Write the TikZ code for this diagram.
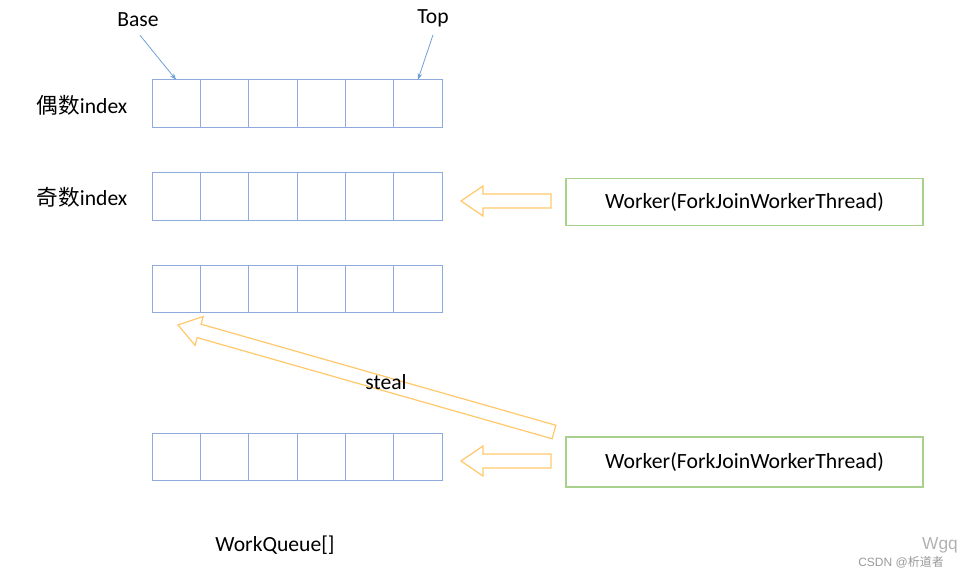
\documentclass[tikz,border=0pt]{standalone}
\usepackage{fontspec}
\setmainfont{Carlito}
\newfontfamily\cjk{Noto Sans CJK SC}
\newfontfamily\wmfont{Liberation Sans}
\definecolor{cellblue}{HTML}{8FAADC}
\definecolor{ptrblue}{HTML}{6F9FD8}
\definecolor{wgreen}{HTML}{A9D18E}
\definecolor{arrorange}{HTML}{FFC96B}
\tikzset{
  cell/.style={draw=cellblue, line width=0.7pt, minimum width=36.25pt, minimum height=35.4pt, inner sep=0pt, outer sep=0pt},
  worker/.style={draw=wgreen, line width=0.8pt, minimum width=267.75pt, minimum height=36pt, inner sep=0pt, font=\fontsize{16.3}{18}\selectfont},
  lbl/.style={font=\fontsize{16.2}{18}\selectfont, inner sep=0pt},
  ptr/.style={draw=ptrblue, line width=0.6pt, -{Stealth[length=5pt,width=3.5pt]}},
  hollow/.pic={\draw[arrorange, line width=0.9pt, line join=miter, fill=white]
     (0,-7) -- (\pgfkeysvalueof{/tikz/arrlen}-22,-7) -- (\pgfkeysvalueof{/tikz/arrlen}-22,-15)
     -- (\pgfkeysvalueof{/tikz/arrlen},0) -- (\pgfkeysvalueof{/tikz/arrlen}-22,15)
     -- (\pgfkeysvalueof{/tikz/arrlen}-22,7) -- (0,7) -- cycle;},
  arrlen/.initial=90
}
\usetikzlibrary{arrows.meta}
\begin{document}
\begin{tikzpicture}[x=0.75pt, y=-0.75pt]
\useasboundingbox (0,0) rectangle (973,577);
% rows of cells
\foreach \r/\yc in {1/103.5, 2/196.5, 3/289, 4/457} {
  \foreach \c in {1,...,6} {
    \node[cell] (r\r c\c) at ({152+48.333*(\c-0.5)},\yc) {};
  }
}
% labels
\node[lbl] (lab1) at (82,105) {{\cjk 偶数}index};
\node[lbl] (lab2) at (82,197) {{\cjk 奇数}index};
\node[lbl] (base) at (138,20) {Base};
\node[lbl] (top) at (433,18) {Top};
\node[lbl] (wq) at (275,545) {WorkQueue[]};
\draw[ptr] (base.south) ++(2,8) coordinate (bs) -- (r1c1.north);
\draw[ptr] (top.south) ++(0,8) coordinate (ts) -- (r1c6.north);
% workers
\node[worker, minimum height=35.25pt] (w1) at (744.5,201.8) {Worker(ForkJoinWorkerThread)};
\node[worker, minimum height=37.5pt] (w2) at (744.5,462) {Worker(ForkJoinWorkerThread)};
% hollow arrows
\coordinate (a1) at (551,201);
\coordinate (a2) at (551,461);
\coordinate (s1) at (554,432);
\pic[rotate=180, arrlen=90] at (a1) {hollow};
\pic[rotate=180, arrlen=90] at (a2) {hollow};
\pic[rotate=164.1, arrlen=391] at (s1) {hollow};
\node[lbl] (steal) at (386,382) {steal};
% watermark
\node[anchor=west, inner sep=0pt, text=gray!80, font=\wmfont\fontsize{9}{10}\selectfont] (wm) at (858,562) {CSDN @{\cjk 析道者}};
\node[inner sep=0pt, text=gray!60, font=\wmfont\fontsize{13}{14}\selectfont] (wm2) at (940,545) {Wgq};
\end{tikzpicture}
\end{document}
